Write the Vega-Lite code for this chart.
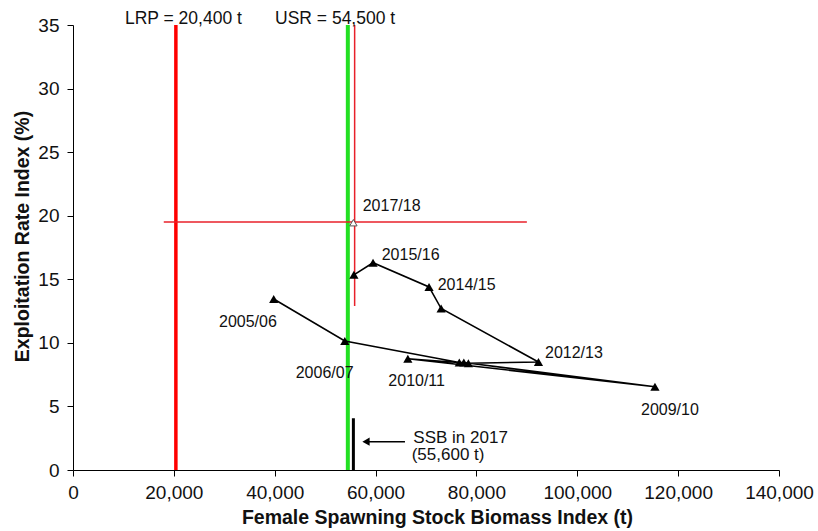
{
  "$schema": "https://vega.github.io/schema/vega-lite/v6.json",
  "width": 706,
  "height": 445,
  "autosize": {"type": "none"},
  "padding": {"left": 73, "top": 25, "right": 39, "bottom": 61},
  "background": "white",
  "config": {
    "view": {"stroke": null},
    "font": "Liberation Sans",
    "axis": {"grid": false, "domainColor": "#000", "tickColor": "#000", "labelColor": "#111", "titleColor": "#111", "labelFont": "Liberation Sans", "titleFont": "Liberation Sans", "labelFontSize": 19, "titleFontSize": 19.5, "titleFontWeight": "bold", "tickSize": 6, "domainWidth": 1, "tickWidth": 1, "labelOverlap": false, "labelBound": false, "labelFlush": false}
  },
  "datasets": {
    "series": [
      {"season": "2005/06", "ord": 1, "ssb": 39800, "er": 13.45},
      {"season": "2006/07", "ord": 2, "ssb": 53900, "er": 10.15},
      {"season": "2007/08", "ord": 3, "ssb": 76600, "er": 8.45},
      {"season": "2008/09", "ord": 4, "ssb": 77500, "er": 8.45},
      {"season": "2009/10", "ord": 5, "ssb": 115400, "er": 6.55},
      {"season": "2010/11", "ord": 6, "ssb": 66400, "er": 8.75},
      {"season": "2011/12", "ord": 7, "ssb": 78400, "er": 8.4},
      {"season": "2012/13", "ord": 8, "ssb": 92300, "er": 8.5},
      {"season": "2013/14", "ord": 9, "ssb": 73000, "er": 12.7},
      {"season": "2014/15", "ord": 10, "ssb": 70600, "er": 14.4},
      {"season": "2015/16", "ord": 11, "ssb": 59500, "er": 16.3},
      {"season": "2016/17", "ord": 12, "ssb": 55700, "er": 15.35}
    ],
    "current": [{"season": "2017/18", "ssb": 55600, "er": 19.45}],
    "labels": [
      {"text": "2005/06", "lx": 28950, "ly": 11.27},
      {"text": "2006/07", "lx": 44160, "ly": 7.21},
      {"text": "2010/11", "lx": 62530, "ly": 6.61},
      {"text": "2012/13", "lx": 93600, "ly": 8.78},
      {"text": "2014/15", "lx": 72320, "ly": 14.16},
      {"text": "2015/16", "lx": 61220, "ly": 16.52},
      {"text": "2017/18", "lx": 57450, "ly": 20.37},
      {"text": "2009/10", "lx": 112630, "ly": 4.33}
    ],
    "notes": [
      {"text": "LRP = 20,400 t", "lx": 10300, "ly": 35.08},
      {"text": "USR = 54,500 t", "lx": 40060, "ly": 35.08}
    ],
    "ssbnote": [
      {"text": "SSB in 2017", "lx": 67490, "ly": 2.15},
      {"text": "(55,600 t)", "lx": 67160, "ly": 0.79}
    ]
  },
  "encoding": {
    "x": {"type": "quantitative", "scale": {"domain": [0, 140000], "nice": false, "zero": false}},
    "y": {"type": "quantitative", "scale": {"domain": [0, 35], "nice": false}}
  },
  "layer": [
    {
      "data": {"values": [{"x": 20400, "y": 0, "y2": 35}]},
      "mark": {"type": "rule", "color": "#ff0000", "strokeWidth": 3.5},
      "encoding": {
        "x": {"field": "x", "type": "quantitative", "axis": {"title": "Female Spawning Stock Biomass Index (t)", "values": [0, 20000, 40000, 60000, 80000, 100000, 120000, 140000], "format": ",.0f", "labelPadding": 7, "titleX": 364, "titleY": 47, "titleBaseline": "middle"}},
        "y": {"field": "y", "type": "quantitative", "axis": {"title": "Exploitation Rate Index (%)", "values": [0, 5, 10, 15, 20, 25, 30, 35], "format": "d", "labelPadding": 8, "titleX": -51, "titleY": 211, "titleBaseline": "middle", "titleAngle": -90}},
        "y2": {"field": "y2"}
      }
    },
    {
      "data": {"values": [{"x": 54500, "y": 0, "y2": 35}]},
      "mark": {"type": "rule", "color": "#22e022", "strokeWidth": 4},
      "encoding": {"x": {"field": "x", "type": "quantitative"}, "y": {"field": "y", "type": "quantitative"}, "y2": {"field": "y2"}}
    },
    {
      "data": {"values": [{"x": 55850, "y": 12.9, "y2": 35}]},
      "mark": {"type": "rule", "color": "#e8202a", "strokeWidth": 1.5},
      "encoding": {"x": {"field": "x", "type": "quantitative"}, "y": {"field": "y", "type": "quantitative"}, "y2": {"field": "y2"}}
    },
    {
      "data": {"values": [{"x": 18000, "x2": 90000, "y": 19.5}]},
      "mark": {"type": "rule", "color": "#e8202a", "strokeWidth": 1.5},
      "encoding": {"x": {"field": "x", "type": "quantitative"}, "x2": {"field": "x2"}, "y": {"field": "y", "type": "quantitative"}}
    },
    {
      "data": {"values": [{"x": 55600, "y": 0, "y2": 4.07}]},
      "mark": {"type": "rule", "color": "#000", "strokeWidth": 3},
      "encoding": {"x": {"field": "x", "type": "quantitative"}, "y": {"field": "y", "type": "quantitative"}, "y2": {"field": "y2"}}
    },
    {
      "data": {"values": [{"x": 57900, "x2": 65830, "y": 2.23}]},
      "mark": {"type": "rule", "color": "#000", "strokeWidth": 1.5},
      "encoding": {"x": {"field": "x", "type": "quantitative"}, "x2": {"field": "x2"}, "y": {"field": "y", "type": "quantitative"}}
    },
    {
      "data": {"values": [{"x": 58100, "y": 2.23}]},
      "mark": {"type": "point", "shape": "triangle-left", "filled": true, "color": "#000", "size": 70, "opacity": 1},
      "encoding": {"x": {"field": "x", "type": "quantitative"}, "y": {"field": "y", "type": "quantitative"}}
    },
    {
      "data": {"name": "series"},
      "mark": {"type": "line", "color": "#000", "strokeWidth": 1.6},
      "encoding": {"x": {"field": "ssb", "type": "quantitative"}, "y": {"field": "er", "type": "quantitative"}, "order": {"field": "ord"}}
    },
    {
      "data": {"name": "series"},
      "mark": {"type": "point", "shape": "triangle-up", "filled": true, "color": "#000", "size": 85, "opacity": 1},
      "encoding": {"x": {"field": "ssb", "type": "quantitative"}, "y": {"field": "er", "type": "quantitative"}}
    },
    {
      "data": {"name": "current"},
      "mark": {"type": "point", "shape": "triangle-up", "filled": false, "stroke": "#555", "fill": "white", "strokeWidth": 1, "size": 55, "opacity": 1},
      "encoding": {"x": {"field": "ssb", "type": "quantitative"}, "y": {"field": "er", "type": "quantitative"}}
    },
    {
      "data": {"name": "labels"},
      "mark": {"type": "text", "align": "left", "baseline": "alphabetic", "fontSize": 16, "color": "#111", "font": "Liberation Sans"},
      "encoding": {"x": {"field": "lx", "type": "quantitative"}, "y": {"field": "ly", "type": "quantitative"}, "text": {"field": "text"}}
    },
    {
      "data": {"name": "notes"},
      "mark": {"type": "text", "align": "left", "baseline": "alphabetic", "fontSize": 17.5, "color": "#111", "font": "Liberation Sans"},
      "encoding": {"x": {"field": "lx", "type": "quantitative"}, "y": {"field": "ly", "type": "quantitative"}, "text": {"field": "text"}}
    },
    {
      "data": {"name": "ssbnote"},
      "mark": {"type": "text", "align": "left", "baseline": "alphabetic", "fontSize": 17, "color": "#111", "font": "Liberation Sans"},
      "encoding": {"x": {"field": "lx", "type": "quantitative"}, "y": {"field": "ly", "type": "quantitative"}, "text": {"field": "text"}}
    }
  ]
}
